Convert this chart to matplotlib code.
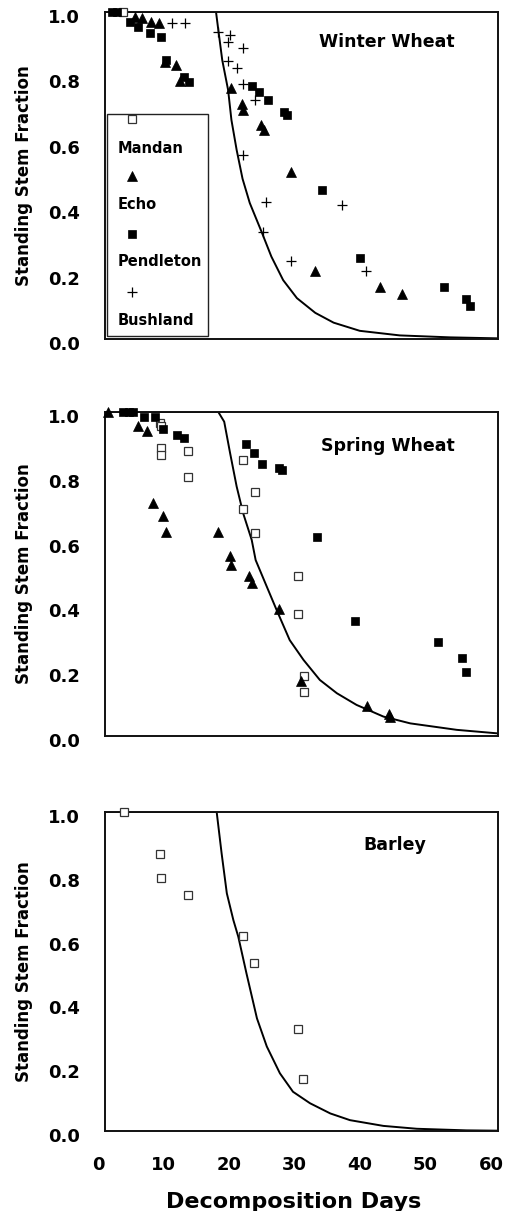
import numpy as np
import matplotlib
matplotlib.use("Agg")
import matplotlib.pyplot as plt
import matplotlib.transforms as mtransforms
from matplotlib.patches import Rectangle

plt.rcParams['font.family'] = ['DejaVu Sans']
plt.rcParams['font.weight'] = 'bold'

# ---- Winter Wheat ----
ww_curve_days = [0, 16.95, 17.3, 17.9, 18.8, 19.3, 20.1, 21.0, 22.1, 23.9, 25.4, 27.2, 29.3, 32.1, 34.9, 38.9, 45.0, 52.7, 60.0]
ww_curve_vals = [1.0, 1.0, 0.945, 0.853, 0.761, 0.67, 0.578, 0.49, 0.416, 0.328, 0.252, 0.18, 0.125, 0.08, 0.05, 0.025, 0.011, 0.005, 0.002]

ww_mandan_days = [2.7]
ww_mandan_vals = [1.0]
ww_echo_days = [4.6, 5.6, 7.0, 8.2, 9.2, 10.8, 11.5, 19.2, 20.9, 21.0, 23.8, 24.3, 28.4, 32.0, 42.0, 45.3]
ww_echo_vals = [0.986, 0.981, 0.97, 0.965, 0.848, 0.838, 0.79, 0.767, 0.72, 0.70, 0.654, 0.64, 0.51, 0.209, 0.16, 0.138]
ww_pend_days = [1.0, 1.8, 3.8, 5.1, 6.8, 8.5, 9.3, 12.0, 12.8, 22.4, 23.5, 24.9, 27.4, 27.8, 33.2, 38.9, 51.7, 55.1, 55.8]
ww_pend_vals = [1.0, 1.0, 0.97, 0.954, 0.936, 0.924, 0.853, 0.80, 0.786, 0.774, 0.755, 0.731, 0.694, 0.685, 0.456, 0.247, 0.16, 0.122, 0.10]
ww_bush_days = [10.3, 12.2, 17.3, 19.1, 18.8, 21.0, 18.8, 20.1, 21.1, 22.9, 21.1, 24.6, 24.1, 28.4, 36.2, 39.9]
ww_bush_vals = [0.966, 0.966, 0.938, 0.93, 0.908, 0.89, 0.85, 0.83, 0.78, 0.73, 0.563, 0.418, 0.328, 0.24, 0.41, 0.208]

# ---- Spring Wheat ----
sw_curve_days = [0, 17.3, 18.2, 19.1, 20.1, 21.1, 22.4, 23.0, 24.7, 26.2, 28.2, 30.3, 32.8, 35.4, 38.4, 42.5, 46.6, 53.7, 60.0]
sw_curve_vals = [1.0, 1.0, 0.97, 0.873, 0.77, 0.687, 0.605, 0.543, 0.461, 0.389, 0.296, 0.235, 0.173, 0.132, 0.096, 0.06, 0.039, 0.019, 0.008]

sw_mandan_days = [8.4, 8.5, 8.5, 8.5, 12.7, 12.7, 21.0, 22.9, 21.0, 22.9, 29.5, 29.5, 30.4, 30.4]
sw_mandan_vals = [0.967, 0.957, 0.888, 0.867, 0.88, 0.80, 0.852, 0.754, 0.70, 0.626, 0.494, 0.376, 0.185, 0.137]
sw_echo_days = [0.5, 5.0, 6.4, 7.3, 8.9, 9.3, 17.3, 19.1, 19.2, 22.0, 22.5, 26.6, 29.9, 40.0, 43.4, 43.5]
sw_echo_vals = [1.0, 0.957, 0.941, 0.718, 0.68, 0.63, 0.63, 0.556, 0.528, 0.494, 0.471, 0.392, 0.171, 0.093, 0.067, 0.06]
sw_pend_days = [2.8, 3.6, 4.3, 6.0, 7.6, 8.8, 11.0, 12.1, 21.6, 22.7, 24.0, 26.6, 27.0, 32.3, 38.2, 50.8, 54.5, 55.1]
sw_pend_vals = [1.0, 1.0, 1.0, 0.985, 0.985, 0.949, 0.93, 0.919, 0.90, 0.874, 0.841, 0.826, 0.82, 0.615, 0.355, 0.291, 0.24, 0.197]

# ---- Barley ----
ba_curve_days = [0, 17.05, 17.8, 18.6, 19.6, 20.35, 21.6, 23.2, 24.7, 26.7, 28.7, 31.3, 34.4, 37.4, 42.5, 47.6, 55.2, 60.0]
ba_curve_vals = [1.0, 1.0, 0.871, 0.745, 0.661, 0.609, 0.494, 0.353, 0.265, 0.181, 0.123, 0.087, 0.055, 0.034, 0.016, 0.007, 0.002, 0.001]
ba_mandan_days = [2.9, 8.4, 8.5, 12.6, 21.0, 22.8, 29.4, 30.3]
ba_mandan_vals = [1.0, 0.867, 0.792, 0.74, 0.611, 0.526, 0.32, 0.162]

series_names = ["Mandan", "Echo", "Pendleton", "Bushland"]
yticks = [0.0, 0.2, 0.4, 0.6, 0.8, 1.0]
xticks = [0, 10, 20, 30, 40, 50, 60]

styles = {
    "Mandan": dict(marker="s", ms=6, mfc="white", mec="#333333", mew=0.9, ls="none"),
    "Echo": dict(marker="^", ms=7.5, mfc="black", mec="black", mew=0.5, ls="none"),
    "Pendleton": dict(marker="s", ms=5.8, mfc="black", mec="black", mew=0.5, ls="none"),
    "Bushland": dict(marker="+", ms=7.5, mec="black", mew=0.9, ls="none"),
}

W, H = 505, 1211
fig = plt.figure(figsize=(W / 100, H / 100), dpi=100)

# tick labels in the original sit a little left / below their ticks
x_shift = mtransforms.ScaledTranslation(-7 / 100, 0, fig.dpi_scale_trans)
y_shift = mtransforms.ScaledTranslation(0, -4 / 100, fig.dpi_scale_trans)


def make_ax(top, bottom):
    ax = fig.add_axes([105 / W, 1 - bottom / H, 393 / W, (bottom - top) / H])
    ax.set_xlim(0, 60)
    ax.set_ylim(0, 1.0)
    ax.set_yticks(yticks)
    ax.set_yticklabels(["%.1f" % v for v in yticks])
    ax.set_xticks(xticks)
    ax.tick_params(length=0, labelsize=13, pad=18)
    for lab in ax.get_yticklabels():
        lab.set_transform(lab.get_transform() + y_shift)
    for lab in ax.get_xticklabels():
        lab.set_transform(lab.get_transform() + x_shift)
    for s in ax.spines.values():
        s.set_linewidth(1.4)
        s.set_color("#111111")
    ax.set_ylabel("Standing Stem Fraction", fontsize=12, fontweight="bold")
    ax.yaxis.set_label_coords(-72 / 393, 0.5)
    return ax

ax1 = make_ax(12, 339)
ax2 = make_ax(412, 736)
ax3 = make_ax(812, 1131)

for ax in (ax1, ax2):
    ax.tick_params(axis="x", labelbottom=False)

# curves
ax1.plot(ww_curve_days, ww_curve_vals, color="black", lw=1.4, zorder=2)
ax2.plot(sw_curve_days, sw_curve_vals, color="black", lw=1.4, zorder=2)
ax3.plot(ba_curve_days, ba_curve_vals, color="black", lw=1.4, zorder=2)

# points
ax1.plot(ww_mandan_days, ww_mandan_vals, clip_on=False, zorder=3, **styles["Mandan"])
ax1.plot(ww_echo_days, ww_echo_vals, clip_on=False, zorder=3, **styles["Echo"])
ax1.plot(ww_pend_days, ww_pend_vals, clip_on=False, zorder=3, **styles["Pendleton"])
ax1.plot(ww_bush_days, ww_bush_vals, clip_on=False, zorder=3, **styles["Bushland"])

ax2.plot(sw_mandan_days, sw_mandan_vals, clip_on=False, zorder=3, **styles["Mandan"])
ax2.plot(sw_echo_days, sw_echo_vals, clip_on=False, zorder=3, **styles["Echo"])
ax2.plot(sw_pend_days, sw_pend_vals, clip_on=False, zorder=3, **styles["Pendleton"])

ax3.plot(ba_mandan_days, ba_mandan_vals, clip_on=False, zorder=3, **styles["Mandan"])

# panel titles
ax1.text(0.718, 0.908, "Winter Wheat", transform=ax1.transAxes, ha="center", va="center", fontsize=12.5, fontweight="bold")
ax2.text(0.72, 0.895, "Spring Wheat", transform=ax2.transAxes, ha="center", va="center", fontsize=12.5, fontweight="bold")
ax3.text(0.738, 0.897, "Barley", transform=ax3.transAxes, ha="center", va="center", fontsize=12.5, fontweight="bold")

# legend box (marker above name, as in the original)
ax1.add_patch(Rectangle((0.004, 0.010), 0.259, 0.678, transform=ax1.transAxes,
                        facecolor="white", edgecolor="#222222", lw=1.0, zorder=4))
marker_rows = [0.673, 0.498, 0.321, 0.145]
label_rows = [0.584, 0.410, 0.236, 0.058]
for name, my, ly in zip(series_names, marker_rows, label_rows):
    ax1.plot([0.068], [my], transform=ax1.transAxes, zorder=5, clip_on=False, **styles[name])
    ax1.text(0.031, ly, name, transform=ax1.transAxes, ha="left", va="center",
             fontsize=10.5, fontweight="bold", zorder=5)

ax3.set_xlabel("Decomposition Days", fontsize=16, fontweight="bold")
ax3.xaxis.set_label_coords(0.48, -0.191)

fig.savefig("out.png", dpi=100)
